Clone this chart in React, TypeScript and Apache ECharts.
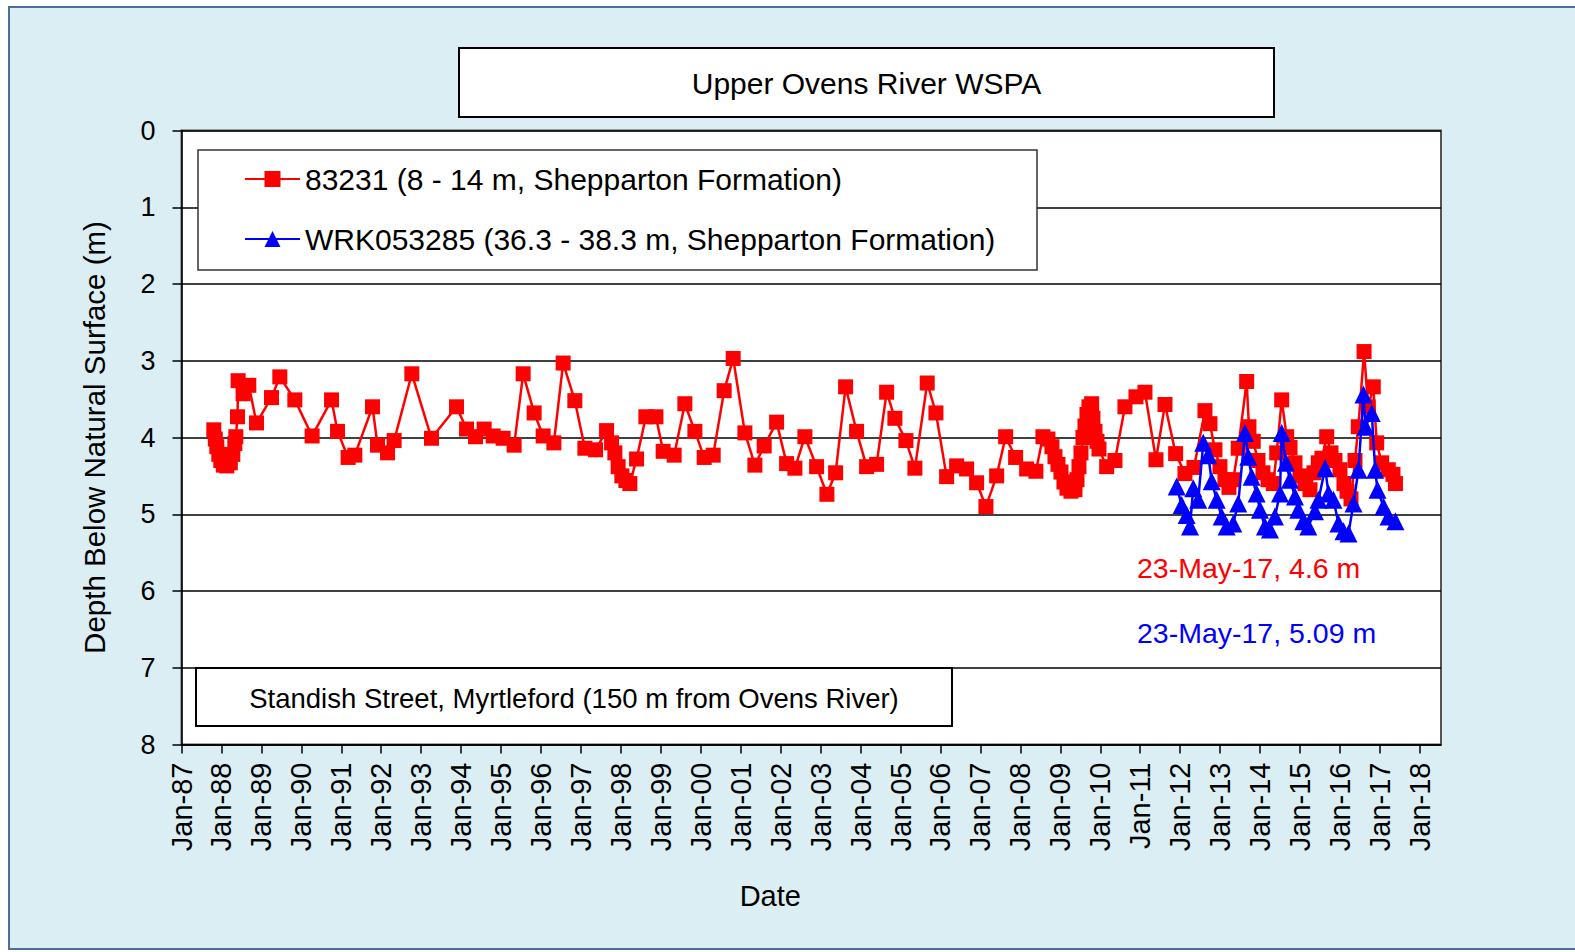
import React, { useEffect, useRef } from 'react';
import * as echarts from 'echarts';

const titleText = 'Upper Ovens River WSPA';
const redName = '83231 (8 - 14 m, Shepparton Formation)';
const blueName = 'WRK053285 (36.3 - 38.3 m, Shepparton Formation)';
const siteText = 'Standish Street, Myrtleford (150 m from Ovens River)';
const redNote = '23-May-17, 4.6 m';
const blueNote = '23-May-17, 5.09 m';
const yAxisTitle = 'Depth Below Natural Surface (m)';
const xAxisTitle = 'Date';

const xTickYears = [
  1987, 1988, 1989, 1990, 1991, 1992, 1993, 1994, 1995, 1996, 1997, 1998, 1999, 2000, 2001, 2002,
  2003, 2004, 2005, 2006, 2007, 2008, 2009, 2010, 2011, 2012, 2013, 2014, 2015, 2016, 2017, 2018,
];

// Bore 83231: time in decimal years, depth below natural surface (m)
const redYears = [
  1987.809, 1987.846, 1987.884, 1987.934, 1987.984, 1988.047, 1988.134, 1988.222, 1988.284, 1988.334,
  1988.36, 1988.402, 1988.417, 1988.542, 1988.685, 1988.878, 1989.253, 1989.461, 1989.837, 1990.27,
  1990.756, 1990.906, 1991.171, 1991.339, 1991.782, 1991.907, 1992.158, 1992.323, 1992.766, 1993.259,
  1993.885, 1994.136, 1994.361, 1994.576, 1994.802, 1995.052, 1995.327, 1995.553, 1995.828, 1996.054,
  1996.322, 1996.554, 1996.847, 1997.098, 1997.366, 1997.641, 1997.766, 1997.849, 1997.931, 1998.024,
  1998.124, 1998.224, 1998.392, 1998.625, 1998.876, 1999.058, 1999.333, 1999.601, 1999.852, 2000.085,
  2000.31, 2000.585, 2000.811, 2001.104, 2001.354, 2001.587, 2001.898, 2002.148, 2002.356, 2002.606,
  2002.899, 2003.157, 2003.375, 2003.625, 2003.9, 2004.151, 2004.401, 2004.652, 2004.859, 2005.135,
  2005.36, 2005.668, 2005.886, 2006.154, 2006.404, 2006.654, 2006.905, 2007.138, 2007.406, 2007.631,
  2007.881, 2008.157, 2008.389, 2008.565, 2008.69, 2008.79, 2008.866, 2008.941, 2009.016, 2009.091,
  2009.166, 2009.266, 2009.367, 2009.417, 2009.467, 2009.517, 2009.567, 2009.617, 2009.667, 2009.717,
  2009.784, 2009.817, 2009.868, 2009.918, 2009.968, 2010.16, 2010.368, 2010.618, 2010.894, 2011.119,
  2011.395, 2011.62, 2011.887, 2012.12, 2012.346, 2012.621, 2012.746, 2012.871, 2012.996, 2013.121,
  2013.222, 2013.329, 2013.454, 2013.665, 2013.722, 2013.83, 2013.948, 2014.073, 2014.199, 2014.331,
  2014.417, 2014.542, 2014.667, 2014.75, 2014.875, 2015.0, 2015.125, 2015.25, 2015.35, 2015.458,
  2015.55, 2015.668, 2015.776, 2015.876, 2016.001, 2016.101, 2016.177, 2016.277, 2016.377, 2016.46,
  2016.604, 2016.707, 2016.835, 2016.92, 2017.045, 2017.21, 2017.328, 2017.39,
];
const redDepths = [
  3.9, 4.02, 4.12, 4.22, 4.3, 4.36, 4.37, 4.33, 4.22, 4.08,
  3.99, 3.73, 3.26, 3.43, 3.32, 3.81, 3.48, 3.21, 3.51, 3.98,
  3.51, 3.92, 4.26, 4.23, 3.6, 4.1, 4.2, 4.04, 3.17, 4.01,
  3.6, 3.89, 3.99, 3.89, 3.98, 4.01, 4.1, 3.17, 3.68, 3.98,
  4.07, 3.03, 3.52, 4.14, 4.16, 3.91, 4.07, 4.2, 4.38, 4.5,
  4.56, 4.6, 4.28, 3.73, 3.73, 4.18, 4.23, 3.56, 3.92, 4.26,
  4.23, 3.39, 2.97, 3.94, 4.36, 4.11, 3.8, 4.34, 4.4, 3.99,
  4.38, 4.74, 4.46, 3.34, 3.92, 4.38, 4.35, 3.41, 3.75, 4.04,
  4.4, 3.29, 3.68, 4.51, 4.37, 4.41, 4.59, 4.9, 4.5, 3.99,
  4.26, 4.41, 4.44, 3.99, 4.02, 4.12, 4.25, 4.35, 4.45, 4.58,
  4.66, 4.7, 4.68, 4.55, 4.38, 4.2, 4.0, 3.85, 3.7, 3.6,
  3.56, 3.75, 3.92, 4.05, 4.15, 4.38, 4.3, 3.6, 3.47, 3.41,
  4.29, 3.57, 4.21, 4.47, 4.39, 3.65, 3.82, 4.16, 4.38, 4.55,
  4.65, 4.55, 4.14, 3.27, 3.86, 4.05, 4.3, 4.46, 4.55, 4.6,
  4.2, 3.51, 3.99, 4.13, 4.33, 4.5, 4.6, 4.68, 4.46, 4.33,
  4.27, 3.99, 4.2, 4.3, 4.42, 4.6, 4.7, 4.8, 4.3, 3.86,
  2.88, 3.6, 3.34, 4.07, 4.33, 4.42, 4.48, 4.6,
];

// Bore WRK053285
const blueYears = [
  2011.913, 2012.038, 2012.163, 2012.246, 2012.328, 2012.453, 2012.579, 2012.704, 2012.789, 2012.914,
  2013.039, 2013.164, 2013.329, 2013.454, 2013.622, 2013.705, 2013.79, 2013.915, 2013.998, 2014.123,
  2014.248, 2014.373, 2014.499, 2014.542, 2014.649, 2014.75, 2014.875, 2014.957, 2015.083, 2015.208,
  2015.375, 2015.463, 2015.63, 2015.713, 2015.838, 2015.963, 2016.089, 2016.214, 2016.339, 2016.464,
  2016.589, 2016.639, 2016.797, 2016.882, 2016.94, 2017.09, 2017.215, 2017.39,
];
const blueDepths = [
  4.64, 4.88, 5.01, 5.16, 4.66, 4.81, 4.07, 4.23, 4.57, 4.81,
  5.03, 5.16, 5.12, 4.86, 3.94, 4.25, 4.51, 4.73, 4.94, 5.16,
  5.2, 5.03, 4.73, 3.94, 4.33, 4.55, 4.77, 4.94, 5.09, 5.16,
  4.96, 4.81, 4.4, 4.73, 4.81, 5.12, 5.22, 5.25, 4.86, 4.42,
  3.44, 3.86, 3.68, 4.42, 4.68, 4.9, 5.03, 5.09,
];

const FONT = '"Liberation Sans", Arial, sans-serif';

export default function App() {
  const ref = useRef<HTMLDivElement>(null);

  useEffect(() => {
    if (!ref.current) return;
    const chart = echarts.init(ref.current, undefined, { renderer: 'svg' });

    const redData = redYears.map((t, i) => [t, redDepths[i]]);
    const blueData = blueYears.map((t, i) => [t, blueDepths[i]]);

    const yy = (v: number) => String(Math.round(v) % 100).padStart(2, '0');

    chart.setOption({
      animation: false,
      backgroundColor: '#DBEEF4',
      textStyle: { fontFamily: FONT },
      grid: {
        left: 181.5,
        top: 130.5,
        right: 134,
        bottom: 207.5,
        show: true,
        backgroundColor: '#ffffff',
        borderColor: '#555555',
        borderWidth: 2,
      },
      legend: {
        orient: 'vertical',
        left: 244,
        top: 164,
        padding: 0,
        itemGap: 30,
        itemWidth: 55,
        itemHeight: 20,
        z: 20,
        textStyle: { fontFamily: FONT, fontSize: 30, color: '#000', lineHeight: 30 },
        data: [redName, blueName],
      },
      xAxis: {
        type: 'value',
        min: 1987,
        max: 2018.53,
        interval: 1,
        name: xAxisTitle,
        nameLocation: 'middle',
        nameGap: 137,
        nameTextStyle: { fontFamily: FONT, fontSize: 29, color: '#000', padding: [0, 82, 0, 0] },
        axisLine: { show: true, onZero: false, lineStyle: { color: '#000', width: 1.5 } },
        axisTick: { show: true, inside: false, length: 9, customValues: xTickYears, lineStyle: { color: '#000', width: 1.5 } },
        axisLabel: {
          rotate: 90,
          margin: 18,
          fontFamily: FONT,
          fontSize: 29,
          color: '#000',
          customValues: xTickYears,
          formatter: (v: number) => 'Jan-' + yy(v),
        },
        splitLine: { show: false },
      },
      yAxis: {
        type: 'value',
        inverse: true,
        min: 0,
        max: 8,
        interval: 1,
        name: yAxisTitle,
        nameLocation: 'middle',
        nameGap: 72,
        nameTextStyle: { fontFamily: FONT, fontSize: 29.5, color: '#000' },
        axisLine: { show: true, lineStyle: { color: '#000', width: 1.5 } },
        axisTick: { show: true, inside: false, length: 9, lineStyle: { color: '#000', width: 1.5 } },
        axisLabel: { margin: 26, fontFamily: FONT, fontSize: 27, color: '#000' },
        splitLine: { show: true, lineStyle: { color: '#000', width: 1.5 } },
      },
      graphic: [
        { type: 'rect', z: 1, silent: true, shape: { x: 0, y: 0, width: 1575, height: 6 }, style: { fill: '#ffffff' } },
        { type: 'rect', z: 1, silent: true, shape: { x: 0, y: 0, width: 8, height: 952 }, style: { fill: '#ffffff' } },
        { type: 'rect', z: 1, silent: true, shape: { x: 0, y: 950, width: 1575, height: 2 }, style: { fill: '#ffffff' } },
        {
          type: 'rect', z: 1, silent: true,
          shape: { x: 9, y: 7, width: 1620, height: 942 },
          style: { fill: 'none', stroke: '#4A6F9C', lineWidth: 2 },
        },
        {
          type: 'rect', z: 10, silent: true,
          shape: { x: 459, y: 48, width: 815, height: 69 },
          style: { fill: '#ffffff', stroke: '#000', lineWidth: 2 },
        },
        {
          type: 'text', z: 11, silent: true, x: 866.5, y: 83,
          style: { text: titleText, fill: '#000', font: `30px ${FONT}`, align: 'center', verticalAlign: 'middle', textAlign: 'center', textVerticalAlign: 'middle' },
        },
        {
          type: 'rect', z: 10, silent: true,
          shape: { x: 198, y: 150, width: 839, height: 120 },
          style: { fill: '#ffffff', stroke: '#333', lineWidth: 1.5 },
        },
        {
          type: 'rect', z: 10, silent: true,
          shape: { x: 196, y: 668, width: 756, height: 58 },
          style: { fill: '#ffffff', stroke: '#000', lineWidth: 2 },
        },
        {
          type: 'text', z: 11, silent: true, x: 574, y: 698,
          style: { text: siteText, fill: '#000', font: `27.5px ${FONT}`, align: 'center', verticalAlign: 'middle', textAlign: 'center', textVerticalAlign: 'middle' },
        },
        {
          type: 'text', z: 11, silent: true, x: 1137, y: 568,
          style: { text: redNote, fill: '#FF0000', font: `28.5px ${FONT}`, align: 'left', verticalAlign: 'middle', textAlign: 'left', textVerticalAlign: 'middle' },
        },
        {
          type: 'text', z: 11, silent: true, x: 1137, y: 633,
          style: { text: blueNote, fill: '#0000FF', font: `28.5px ${FONT}`, align: 'left', verticalAlign: 'middle', textAlign: 'left', textVerticalAlign: 'middle' },
        },
      ],
      series: [
        {
          name: redName,
          type: 'line',
          data: redData,
          symbol: 'rect',
          symbolSize: 15,
          showAllSymbol: true,
          itemStyle: { color: '#FF0000' },
          lineStyle: { color: '#FF0000', width: 2.5 },
          z: 3,
        },
        {
          name: blueName,
          type: 'line',
          data: blueData,
          symbol: 'triangle',
          symbolSize: 18,
          showAllSymbol: true,
          itemStyle: { color: '#0000FF' },
          lineStyle: { color: '#0000FF', width: 2.5 },
          z: 4,
        },
      ],
    });

    return () => chart.dispose();
  }, []);

  return (
    <div
      ref={ref}
      style={{ position: 'fixed', left: 0, top: 0, width: 1575, height: 952 }}
    />
  );
}
